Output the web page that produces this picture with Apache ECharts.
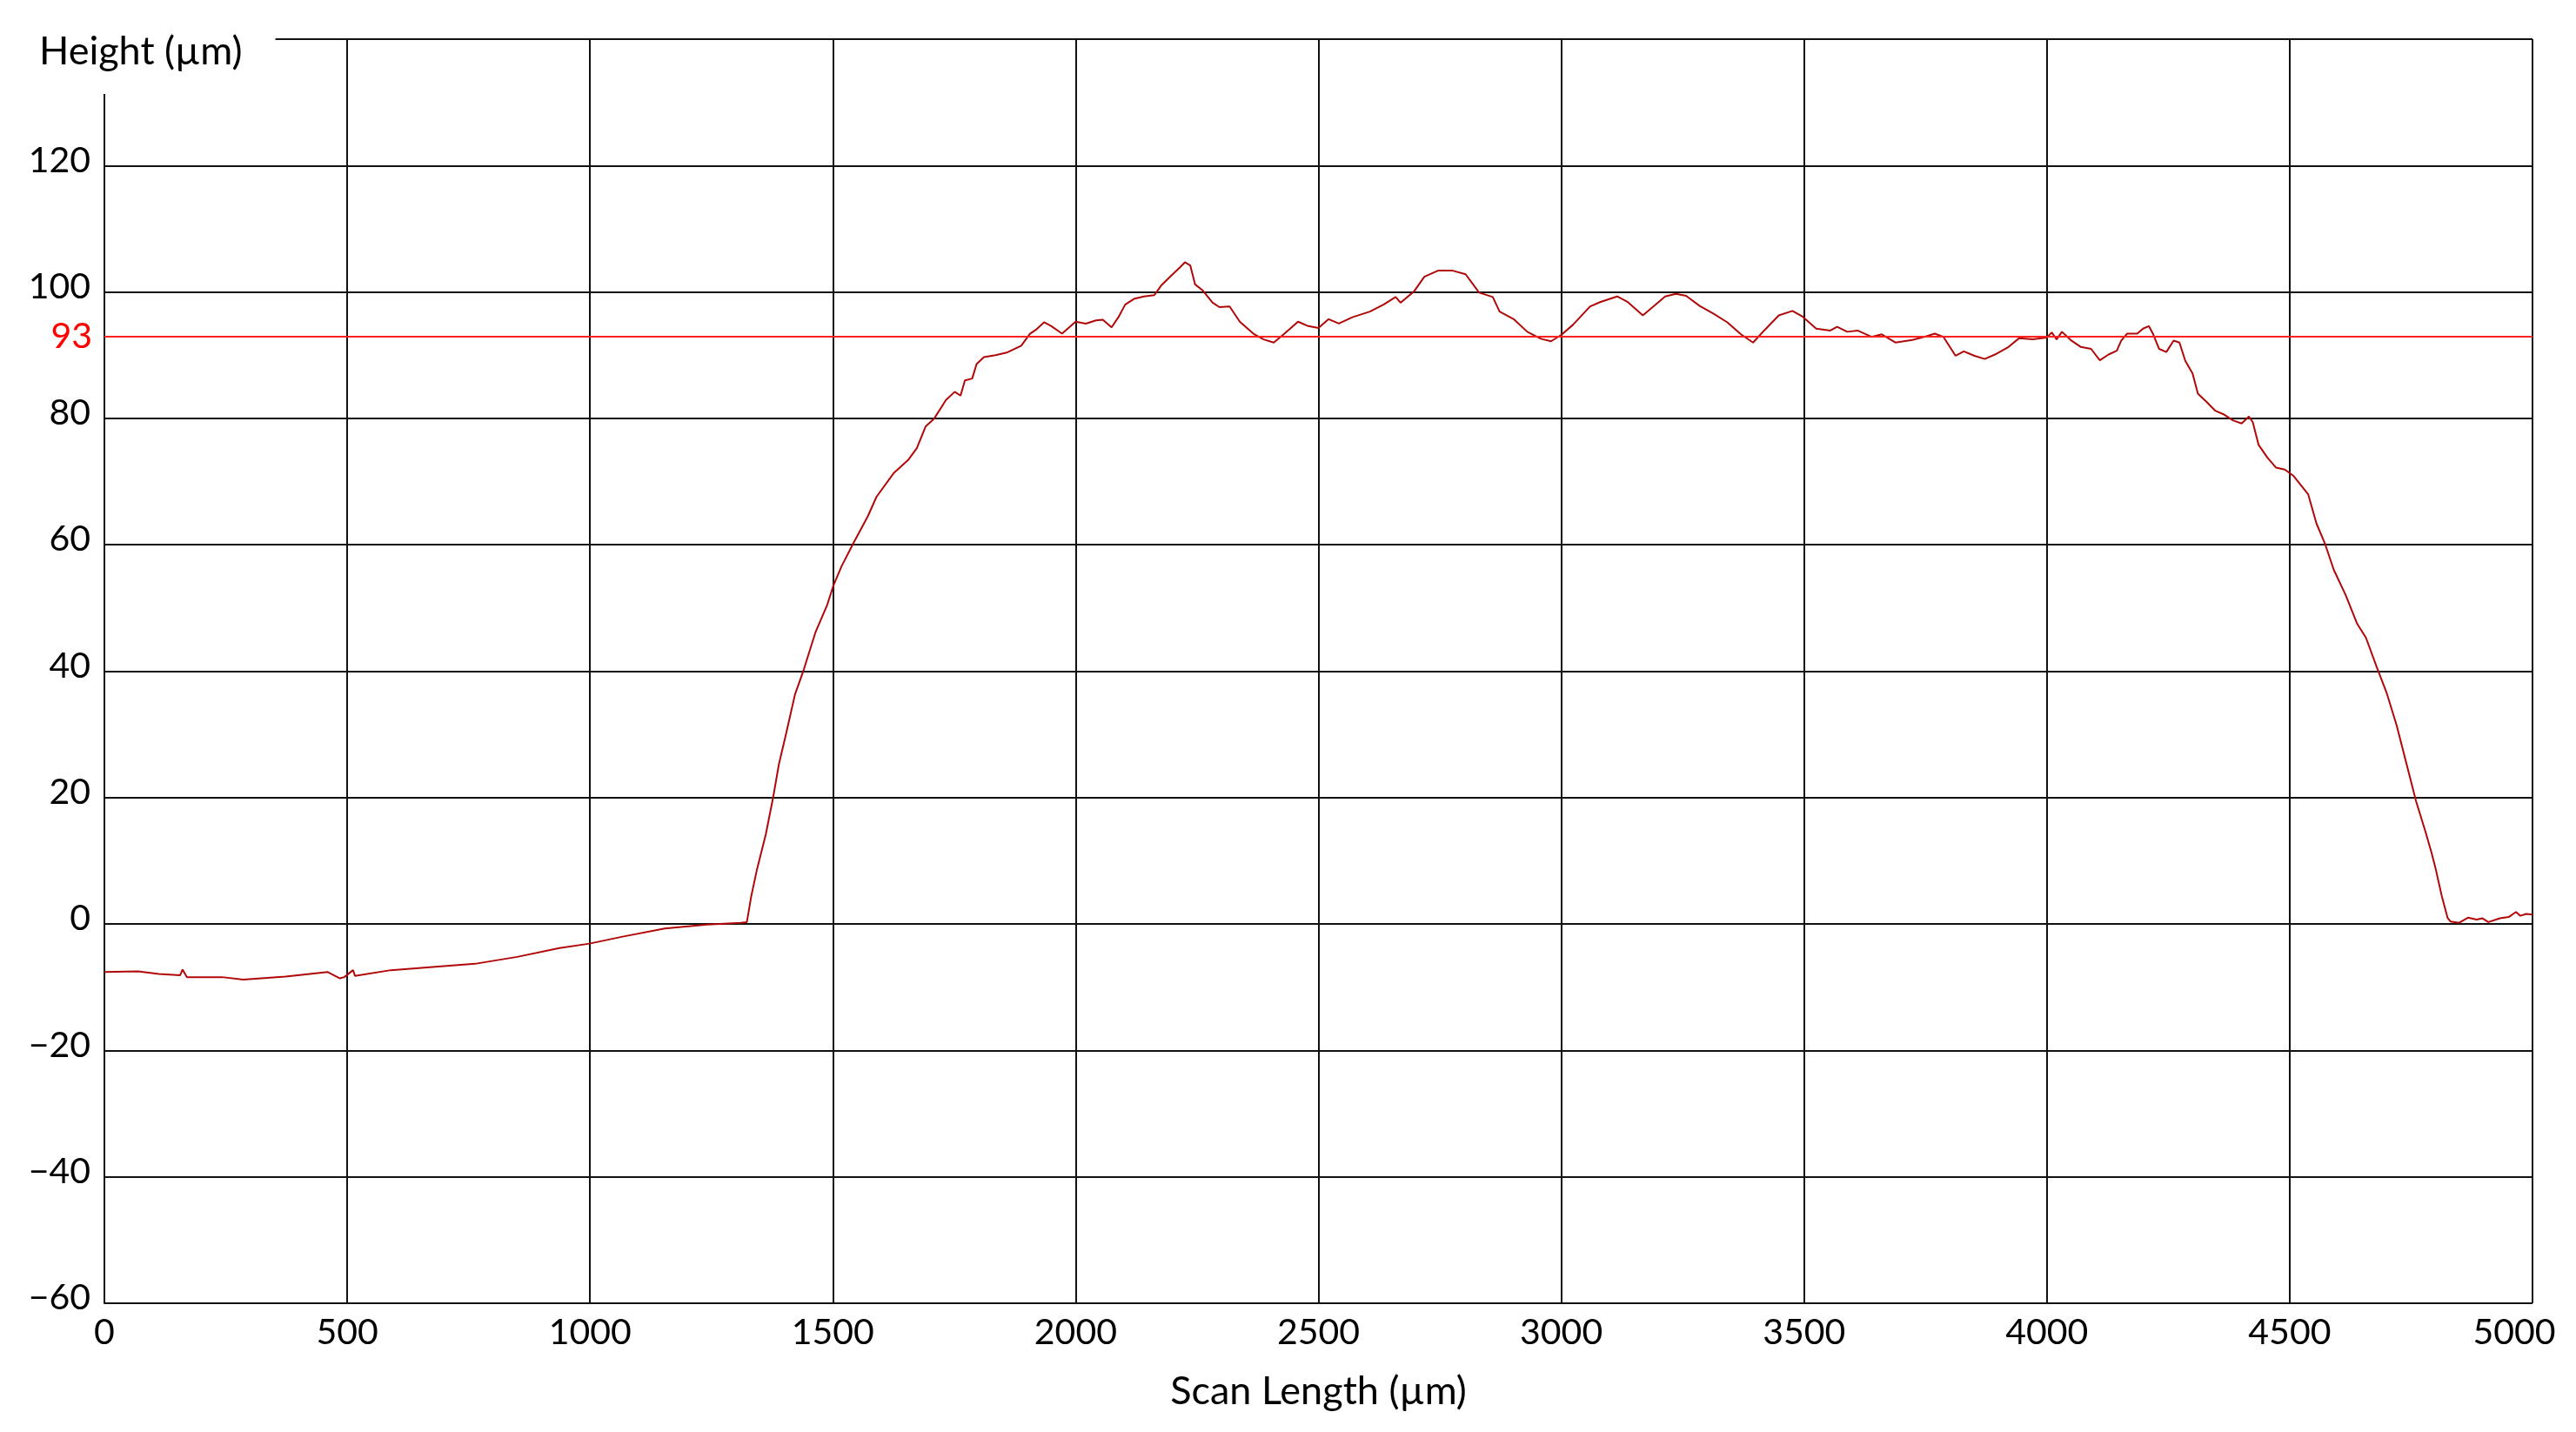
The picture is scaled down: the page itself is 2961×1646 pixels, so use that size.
<!DOCTYPE html>
<html>
<head>
<meta charset="utf-8">
<script src="https://cdn.jsdelivr.net/npm/echarts@6/dist/echarts.min.js"></script>
<style>
html,body{margin:0;padding:0;background:#fff;}
#chart{width:2961px;height:1646px;}
</style>
</head>
<body>
<div id="chart"></div>
<script>
const scanLength = [
  0, 69, 112, 156, 161, 170, 242, 286, 373, 460, 485, 494, 512, 516, 590, 676, 763, 850, 937, 999,
  1067, 1154, 1241, 1310, 1323,
  1325, 1332, 1344, 1362, 1377, 1389, 1404, 1422, 1440, 1464, 1488, 1501, 1518, 1542, 1572, 1590,
  1625, 1655, 1673, 1691, 1709, 1733, 1751, 1763, 1772, 1787, 1796, 1811, 1835, 1858, 1888, 1906,
  1918, 1935, 1950, 1972,
  2000, 2021, 2042, 2056, 2074, 2088, 2102, 2120, 2141, 2162, 2176, 2197, 2215, 2225, 2236, 2246,
  2261, 2282, 2296, 2317, 2338, 2366, 2387, 2408, 2430, 2458, 2479, 2500, 2521, 2542, 2570, 2606,
  2634, 2659, 2669, 2697, 2718, 2747, 2775, 2803, 2831, 2859, 2873, 2902, 2930, 2958, 2979, 3000,
  3024, 3052,
  3059, 3080, 3115, 3137, 3168, 3193, 3214, 3236, 3257, 3285, 3313, 3342, 3370, 3395, 3419, 3448,
  3476, 3497, 3525, 3554, 3568, 3589, 3610, 3639, 3660, 3688, 3723, 3752, 3769, 3787, 3812, 3829,
  3851, 3872, 3893, 3921, 3943, 3971, 4000, 4010, 4020, 4031, 4049, 4070, 4091, 4109, 4127,
  4144, 4153, 4165, 4186, 4198, 4210, 4219, 4231, 4246, 4261, 4273, 4285, 4300, 4311, 4329, 4347,
  4365, 4383, 4401, 4416, 4424, 4436, 4454, 4472, 4490, 4508, 4538, 4555, 4573, 4591, 4615, 4639,
  4657, 4680, 4700, 4720, 4740, 4760, 4780, 4792, 4801, 4813, 4825, 4831,
  4849, 4867, 4885, 4897, 4909, 4933, 4951, 4966, 4975, 4987, 5000
];
const height = [
  -7.6, -7.5, -7.9, -8.1, -7.2, -8.4, -8.4, -8.8, -8.3, -7.6, -8.6, -8.4, -7.3, -8.2, -7.3, -6.8, -6.3, -5.2, -3.8, -3.1,
  -2.0, -0.7, -0.1, 0.2, 0.3,
  0.5, 4.4, 8.7, 14.2, 20.0, 25.3, 30.2, 36.3, 40.2, 46.1, 50.4, 53.5, 56.6, 60.2, 64.5, 67.6,
  71.3, 73.4, 75.3, 78.7, 80.0, 82.9, 84.2, 83.6, 86.0, 86.3, 88.6, 89.7, 90.0, 90.4, 91.5, 93.4,
  94.0, 95.2, 94.6, 93.4,
  95.3, 95.0, 95.5, 95.6, 94.4, 96.0, 98.0, 98.9, 99.3, 99.5, 101.0, 102.6, 103.9, 104.7, 104.2, 101.2,
  100.3, 98.3, 97.6, 97.7, 95.3, 93.4, 92.5, 92.0, 93.4, 95.3, 94.6, 94.3, 95.7, 95.0, 96.0, 96.9,
  98.0, 99.2, 98.3, 100.1, 102.4, 103.4, 103.4, 102.8, 99.9, 99.2, 96.9, 95.7, 93.7, 92.6, 92.2, 93.2,
  94.8, 97.1,
  97.7, 98.4, 99.3, 98.4, 96.3, 97.9, 99.3, 99.7, 99.4, 97.8, 96.6, 95.2, 93.3, 92.0, 94.0, 96.3,
  97.0, 96.1, 94.2, 93.9, 94.5, 93.7, 93.9, 92.9, 93.3, 92.0, 92.4, 93.0, 93.4, 92.9, 89.9, 90.6,
  89.9, 89.4, 90.1, 91.3, 92.7, 92.5, 92.8, 93.6, 92.5, 93.7, 92.4, 91.3, 91.0, 89.2, 90.1,
  90.7, 92.3, 93.4, 93.4, 94.2, 94.6, 93.3, 91.0, 90.5, 92.3, 92.0, 89.1, 87.1, 83.9, 82.6, 81.2,
  80.6, 79.7, 79.2, 80.3, 79.4, 75.8, 73.8, 72.2, 71.9, 70.9, 68.0, 63.4, 60.1, 56.0, 52.1, 47.5,
  45.3, 40.5, 36.5, 31.5, 25.5, 19.5, 14.5, 11.3, 8.6, 4.5, 1.0, 0.4,
  0.2, 1.0, 0.7, 0.9, 0.3, 0.9, 1.1, 1.9, 1.3, 1.6, 1.5
];
const referenceHeight = 93;
const xTicks = [0, 500, 1000, 1500, 2000, 2500, 3000, 3500, 4000, 4500, 5000];
const yTicks = [-60, -40, -20, 0, 20, 40, 60, 80, 100, 120, 140];

const profile = scanLength.map((x, i) => [x, height[i]]);
const FONT = 'Lato';

const chart = echarts.init(document.getElementById('chart'), null, {renderer: 'canvas'});
chart.setOption({
  animation: false,
  backgroundColor: '#ffffff',
  title: {
    text: 'Height (µm)',
    left: 0,
    top: 0,
    padding: [34, 38, 24, 45],
    backgroundColor: '#ffffff',
    textStyle: {fontFamily: FONT, fontSize: 45, fontWeight: 'normal', color: '#000', lineHeight: 50}
  },
  grid: {left: 120, right: 50, top: 45, bottom: 148, containLabel: false},
  xAxis: {
    type: 'value',
    min: xTicks[0],
    max: xTicks[xTicks.length - 1],
    interval: 500,
    name: 'Scan Length (µm)',
    nameLocation: 'middle',
    nameGap: 79,
    nameTextStyle: {fontFamily: FONT, fontSize: 45, color: '#000'},
    axisLine: {show: true, lineStyle: {color: '#111', width: 2}},
    axisTick: {show: false},
    axisLabel: {
      fontFamily: FONT, fontSize: 41, color: '#000', margin: 13,
      formatter: v => v === 5000 ? '{r|5000}' : String(v),
      rich: {r: {fontFamily: FONT, fontSize: 41, color: '#000', padding: [0, 42, 0, 0]}}
    },
    splitLine: {show: true, lineStyle: {color: '#111', width: 2}}
  },
  yAxis: {
    type: 'value',
    min: yTicks[0],
    max: yTicks[yTicks.length - 1],
    interval: 20,
    axisLine: {show: true, onZero: false, lineStyle: {color: '#111', width: 2}},
    axisTick: {show: false},
    axisLabel: {
      fontFamily: FONT, fontSize: 41, color: '#000', margin: 16,
      formatter: v => v === 140 ? '' : '{t|' + (v < 0 ? '\u2212' + Math.abs(v) : String(v)) + '}',
      rich: {t: {fontFamily: FONT, fontSize: 41, color: '#000', padding: [0, 0, 12, 0]}}
    },
    splitLine: {show: true, lineStyle: {color: '#111', width: 2}}
  },
  series: [{
    type: 'line',
    data: profile,
    showSymbol: false,
    symbol: 'none',
    lineStyle: {color: '#b00808', width: 2},
    silent: true,
    markLine: {
      silent: true,
      symbol: ['none', 'none'],
      lineStyle: {color: '#ff2020', width: 2, type: 'solid'},
      label: {
        show: true, position: 'start', distance: 14,
        formatter: String(referenceHeight),
        fontFamily: FONT, fontSize: 41, color: '#ff0000'
      },
      data: [{yAxis: referenceHeight}]
    }
  }]
});
</script>
</body>
</html>
